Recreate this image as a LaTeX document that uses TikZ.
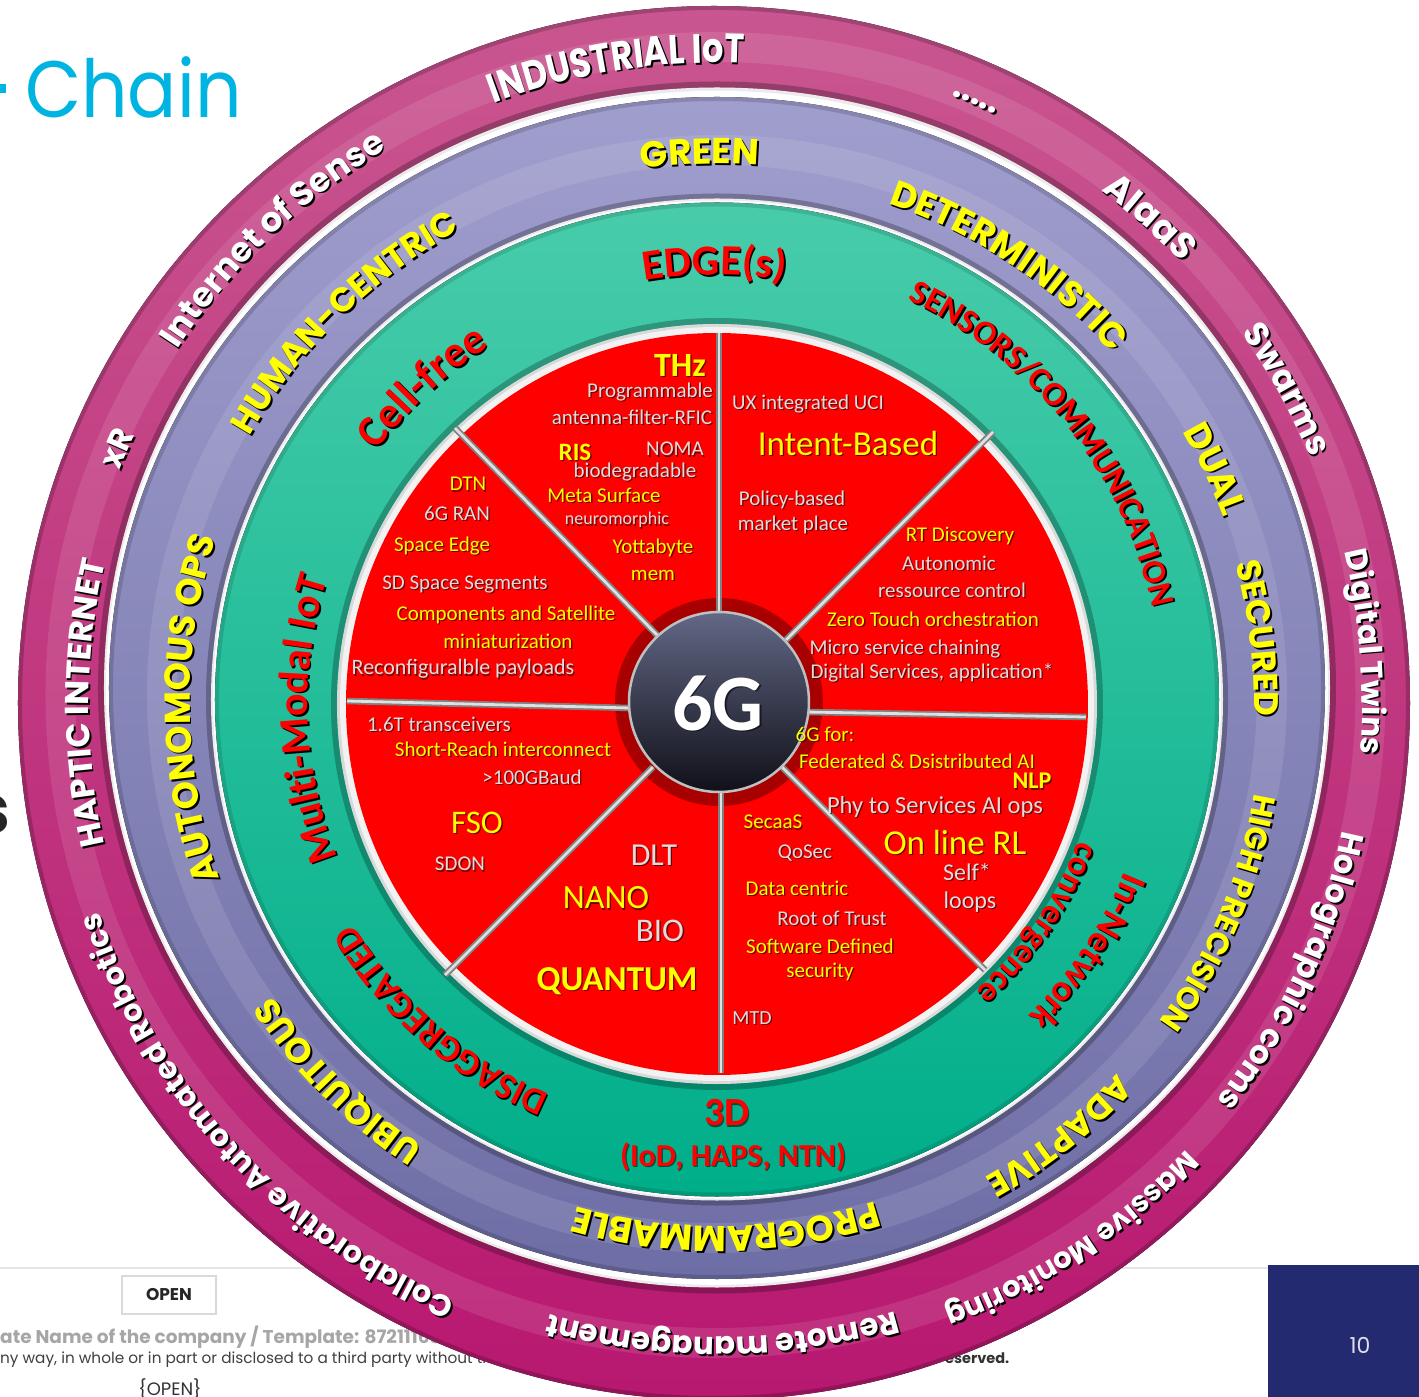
\documentclass[tikz,border=0pt]{standalone}
\usepackage{fontspec}
\usepackage{graphicx}
\setmainfont{Carlito}
\newfontfamily\pop{Poppins}
\newfontfamily\popc[FakeStretch=0.82]{Poppins}
\usetikzlibrary{decorations.text}

\definecolor{magT}{RGB}{201,86,144}
\definecolor{magB}{RGB}{184,24,112}
\definecolor{lavT}{RGB}{160,158,205}
\definecolor{lavB}{RGB}{110,110,166}
\definecolor{grnT}{RGB}{72,204,170}
\definecolor{grnB}{RGB}{0,174,138}
\definecolor{yel}{RGB}{255,255,0}
\definecolor{tgray}{RGB}{222,222,222}
\definecolor{navyb}{RGB}{35,42,112}
\definecolor{cyanc}{RGB}{0,180,226}
\definecolor{c6T}{RGB}{98,104,134}
\definecolor{c6M}{RGB}{36,38,54}
\definecolor{c6B}{RGB}{16,16,24}

\pgfdeclareradialshading{reddisk}{\pgfpoint{0bp}{0bp}}{color(0bp)=(red); color(42bp)=(red); color(50bp)=(red!78!black)}
\pgfdeclareradialshading{halo}{\pgfpoint{0bp}{0bp}}{color(0bp)=(red!60!black); color(40bp)=(red!70!black); color(50bp)=(red)}

\newcommand\rf[1]{\pop\bfseries\fontsize{#1}{#1}\selectfont}
\newcommand\rfc[1]{\popc\bfseries\fontsize{#1}{#1}\selectfont}
\newcommand\cf[1]{\bfseries\fontsize{#1}{#1}\selectfont}

\newcommand\ringtxt[5]{%
 \pgfmathsetmacro\rtA{#1+75}%
 \pgfmathsetmacro\rtB{#1-75}%
 \path[xshift=1.8pt,yshift=-1.8pt,opacity=0.5,decorate,decoration={text along path,text align=center,text color=black,text={|#3|#5}}] (\rtA:#2) arc[start angle=\rtA,end angle=\rtB,radius=#2];%
 \path[decorate,decoration={text along path,text align=center,text color=#4,text={|#3|#5}}] (\rtA:#2) arc[start angle=\rtA,end angle=\rtB,radius=#2];%
}

\newcommand\itx[4]{%
 \node[#3,text=black,opacity=0.55,xshift=1.3pt,yshift=-1.3pt] (#1s) at (#2) {#4};%
 \node[#3] (#1) at (#2) {#4};%
}

\tikzset{
 gtx/.style={font=\fontsize{#1}{#1}\selectfont,text=tgray,inner sep=0pt},
 ytx/.style={font=\fontsize{#1}{#1}\selectfont,text=yel,inner sep=0pt},
 ybx/.style={font=\bfseries\fontsize{#1}{#1}\selectfont,text=yel,inner sep=0pt},
 rbx/.style={font=\bfseries\fontsize{#1}{#1}\selectfont,text=red,inner sep=0pt},
 wbx/.style={font=\bfseries\fontsize{#1}{#1}\selectfont,text=white,inner sep=0pt},
 spokeo/.style={line width=6.5pt,black!50},
 spokei/.style={line width=2.8pt,white!88!black},
 imgc/.style={x=1pt,y=-1pt,shift={(-717pt,703pt)}}
}

\begin{document}
\begin{tikzpicture}[x=1pt,y=1pt]
\useasboundingbox (-717,-694) rectangle (702,703);
\fill[white] (-717,-694) rectangle (702,703);

% ---------- footer (behind the rings) ----------
\begin{scope}[imgc]
 \draw[black!10, line width=2.5pt] (0,1268) -- (1268,1268);
 \node[draw=black!15, line width=1.5pt, minimum width=94pt, minimum height=38pt, inner sep=0pt,
       font=\pop\bfseries\fontsize{17}{17}\selectfont, text=black!85] (openbox) at (169,1295) {OPEN};
 \node[anchor=base west, inner sep=0pt, font=\pop\bfseries\fontsize{18.5}{18.5}\selectfont, text=black!35]
       (foot1) at (0,1343) {ate Name of the company / Template: 87211168};
 \node[anchor=base west, inner sep=0pt, font=\pop\fontsize{15.3}{15.3}\selectfont, text=black!75]
       (foot2) at (0,1363) {ny way, in whole or in part or disclosed to a third party without the prior};
 \node[anchor=base west, inner sep=0pt, font=\pop\bfseries\fontsize{14.5}{14.5}\selectfont, text=black!80]
       (foot3) at (945,1363) {eserved.};
 \node[anchor=north, inner sep=0pt, font=\pop\fontsize{18}{18}\selectfont, text=black!80]
       (foot4) at (170,1378) {\{OPEN\}};
 \fill[navyb] (1268,1265) rectangle (1425,1400);
 \node[font=\pop\fontsize{22}{22}\selectfont, text=white!85!navyb] (pgnum) at (1360,1345) {10};
 \node[anchor=base west, inner sep=0pt, font=\pop\fontsize{80}{80}\selectfont, text=cyanc]
       (chain) at (25,118) {\scalebox{0.91}[1]{Chain}};
 \fill[cyanc] (0,84) rectangle (6,93);
 \node[anchor=east, inner sep=0pt, font=\pop\bfseries\fontsize{68}{68}\selectfont, text=black!85]
       (sfrag) at (11,815) {s};
\end{scope}

% ---------- rings (slightly non-concentric, as in the reference) ----------
\fill[top color=magT, bottom color=magB] (-3,0) ellipse [x radius=696, y radius=697];
\draw[black, opacity=0.2, line width=4pt] (-3,0) ellipse [x radius=694, y radius=695];
\draw[white, opacity=0.10, line width=30pt] (-1.5,8) ellipse [x radius=655, y radius=648];
\draw[black, opacity=0.25, line width=6pt] (0,15.5) ellipse [x radius=616, y radius=603];
\fill[black!8] (0,15.5) ellipse [x radius=613, y radius=600];
\fill[white] (0,15.2) ellipse [x radius=611, y radius=597];
\fill[top color=lavT, bottom color=lavB] (0,15) ellipse [x radius=608, y radius=591];
\draw[black, opacity=0.15, line width=4pt] (0,15) ellipse [x radius=606, y radius=589];
\draw[white, opacity=0.10, line width=30pt] (0,9) ellipse [x radius=555, y radius=544];
\draw[black, opacity=0.25, line width=6pt] (0,3.5) ellipse [x radius=508, y radius=503];
\fill[black!8] (0,3.5) ellipse [x radius=506, y radius=501];
\fill[white] (0,3.5) ellipse [x radius=504, y radius=499];
\fill[top color=grnT, bottom color=grnB] (0,3.5) ellipse [x radius=502, y radius=497];
\draw[black, opacity=0.12, line width=4pt] (0,3.5) ellipse [x radius=500, y radius=495];
\draw[black, opacity=0.25, line width=6pt] (0,-1) circle (383);
\fill[black!15] (0,-1) circle (380);
\fill[white!95!black] (0,-1) circle (377);
\shade[shading=reddisk] (0,-1) circle (371);

% ---------- outer ring texts ----------
\ringtxt{99}{640}{\rfc{41}}{white}{INDUSTRIAL IoT}
\ringtxt{66.8}{651}{\rf{34}}{white}{.....}
\ringtxt{48.3}{640}{\rf{36}}{white}{AIaaS}
\ringtxt{28.8}{642}{\rf{34}}{white}{Swarms}
\ringtxt{4.5}{645}{\rf{31}}{white}{Digital Twins}
\ringtxt{-25}{638}{\rf{32}}{white}{Holographic coms}
\ringtxt{-56.5}{648}{\rf{29}}{white}{Massive Monitoring}
\ringtxt{-89.5}{634}{\rf{31}}{white}{Remote management}
\ringtxt{-137.5}{652}{\rf{30.5}}{white}{Collaborative Automated Robotics}
\ringtxt{180}{628}{\rf{33}}{white}{HAPTIC INTERNET}
\ringtxt{157}{641}{\rf{32}}{white}{xR}
\ringtxt{133.8}{645}{\rf{34}}{white}{Internet of Sense}

% ---------- middle ring texts ----------
\ringtxt{91.8}{539}{\rf{36}}{yel}{GREEN}
\ringtxt{56.3}{528}{\rf{36}}{yel}{DETERMINISTIC}
\ringtxt{25.2}{539}{\rf{36}}{yel}{DUAL}
\ringtxt{6.8}{537}{\rf{34}}{yel}{SECURED}
\ringtxt{-22.7}{545}{\rf{31}}{yel}{HIGH PRECISION}
\ringtxt{-51.7}{545}{\rf{34}}{yel}{ADAPTIVE}
\ringtxt{-89}{523}{\rf{36}}{yel}{PROGRAMMABLE}
\ringtxt{-135.1}{532}{\rf{35}}{yel}{UBIQUITOUS}
\ringtxt{180.6}{527}{\rf{36}}{yel}{AUTONOMOUS OPS}
\ringtxt{134.4}{538}{\rf{34}}{yel}{HUMAN-CENTRIC}

% ---------- inner ring texts ----------
\ringtxt{90.3}{428}{\cf{43}}{red}{EDGE(s)}
\ringtxt{38.5}{446}{\cf{34}}{red}{SENSORS/COMMUNICATION}
\ringtxt{-33.8}{441}{\cf{37}}{red}{In-Network}
\ringtxt{-34.5}{387}{\cf{35}}{red}{convergence}
\ringtxt{-131}{426}{\cf{37}}{red}{DISAGGREGATED}
\ringtxt{182.2}{409}{\cf{42}}{red}{Multi-Modal IoT}
\ringtxt{133}{423}{\cf{44}}{red}{Cell-free}

\shade[shading=halo] (2,1) circle (104);

\begin{scope}[imgc]
 \itx{t3d}{727,1113}{rbx=40}{3D}
 \itx{tiod}{733,1157}{rbx=32}{(IoD, HAPS, NTN)}

 \coordinate (s1a) at (719,333);  \coordinate (s1b) at (719,614);
 \coordinate (s2a) at (993,432);  \coordinate (s2b) at (786,640);
 \coordinate (s3a) at (1086,717); \coordinate (s3b) at (806,712);
 \coordinate (s4a) at (985,970);  \coordinate (s4b) at (779,764);
 \coordinate (s5a) at (721,1073); \coordinate (s5b) at (721,790);
 \coordinate (s6a) at (445,975);  \coordinate (s6b) at (653,767);
 \coordinate (s7a) at (347,701);  \coordinate (s7b) at (630,708);
 \coordinate (s8a) at (455,428);  \coordinate (s8b) at (658,636);
 \foreach \k in {1,...,8}{\draw[spokeo] (s\k a) -- (s\k b);}
 \foreach \k in {1,...,8}{\draw[spokei] (s\k a) -- (s\k b);}

 \shade[top color=c6T, middle color=c6M, bottom color=c6B] (719,702) circle (90);
 \draw[white!75!black, line width=2.5pt] (719,702) circle (90);
 \itx{six}{718,703}{wbx=80}{6G}

 \itx{thz}{680,365}{ybx=34}{THz}
 \itx{prog}{650,392}{gtx=21}{Programmable}
 \itx{ant}{632,417}{gtx=21}{antenna-filter-RFIC}
 \itx{ris}{575,452}{ybx=25}{RIS}
 \itx{noma}{675,449}{gtx=21}{NOMA}
 \itx{biod}{635,472}{gtx=21}{biodegradable}
 \itx{meta}{604,495}{ytx=21}{Meta Surface}
 \itx{neuro}{617,520}{gtx=18}{neuromorphic}
 \itx{yotta}{653,548}{ytx=21}{Yottabyte}
 \itx{mem}{653,575}{ytx=21}{mem}
 \itx{dtn}{468,484}{ytx=21}{DTN}
 \itx{ran}{457,513}{gtx=21}{6G RAN}
 \itx{sedge}{442,546}{ytx=21}{Space Edge}
 \itx{sdss}{465,584}{gtx=21}{SD Space Segments}
 \itx{comp}{506,615}{ytx=21}{Components and Satellite}
 \itx{mini}{508,641}{ytx=21}{miniaturization}
 \itx{reco}{463,669}{gtx=22}{Reconfiguralble payloads}
 \itx{ux}{808,404}{gtx=21}{UX integrated UCI}
 \itx{intent}{848,443}{ytx=35}{Intent-Based}
 \itx{pol}{792,500}{gtx=21}{Policy-based}
 \itx{mkt}{793,525}{gtx=21}{market place}
 \itx{rtd}{960,536}{ytx=21}{RT Discovery}
 \itx{auto}{949,563}{gtx=21}{Autonomic}
 \itx{ress}{952,590}{gtx=21}{ressource control}
 \itx{zero}{933,619}{ytx=21}{Zero Touch orchestration}
 \itx{micro}{905,649}{gtx=21}{Micro service chaining}
 \itx{digs}{932,673}{gtx=21}{Digital Services, application*}
 \itx{gfor}{825,734}{ytx=21}{6G for:}
 \itx{fed}{917,761}{ytx=21}{Federated \& Dsistributed AI}
 \itx{nlp}{1032,781}{ybx=24}{NLP}
 \itx{phy}{935,807}{gtx=24.5}{Phy to Services AI ops}
 \itx{orl}{955,842}{ytx=35}{On line RL}
 \itx{self}{967,872}{gtx=24}{Self*}
 \itx{loops}{970,902}{gtx=24}{loops}
 \itx{secaas}{773,822}{ytx=21}{SecaaS}
 \itx{qosec}{805,853}{gtx=21}{QoSec}
 \itx{datac}{797,888}{ytx=21}{Data centric}
 \itx{rot}{832,918}{gtx=21}{Root of Trust}
 \itx{sdef}{820,946}{ytx=21}{Software Defined}
 \itx{secu}{820,972}{ytx=21}{security}
 \itx{mtd}{752,1018}{gtx=20}{MTD}
 \itx{dlt}{654,855}{gtx=32}{DLT}
 \itx{nano}{606,898}{ytx=34}{NANO}
 \itx{biol}{660,931}{gtx=33}{BIO}
 \itx{quant}{617,981}{ybx=35}{QUANTUM}
 \itx{trans}{439,724}{gtx=21}{1.6T transceivers}
 \itx{short}{503,749}{ytx=21}{Short-Reach interconnect}
 \itx{baud}{532,777}{gtx=21}{>100GBaud}
 \itx{fso}{477,823}{ytx=33}{FSO}
 \itx{sdon}{460,864}{gtx=21}{SDON}
\end{scope}
\end{tikzpicture}
\end{document}
